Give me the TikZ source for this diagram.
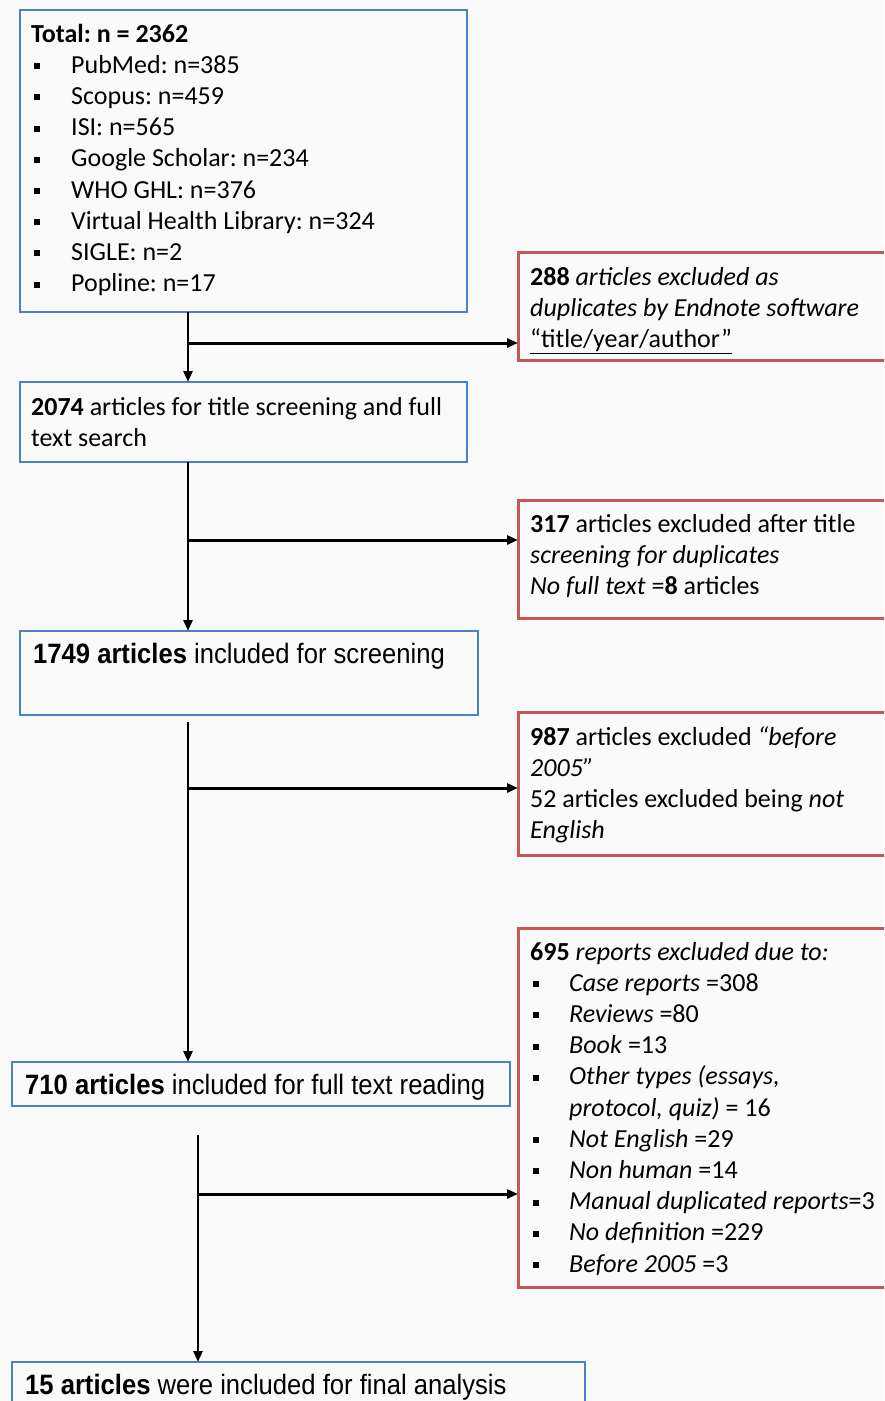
\documentclass[tikz,border=0pt]{standalone}
\usepackage{fontspec}
\setmainfont{Carlito}
\newfontfamily\narrowfont[FakeStretch=0.915]{Liberation Sans}
\usetikzlibrary{arrows.meta}
\frenchspacing
\definecolor{boxblue}{RGB}{72,132,196}
\definecolor{boxred}{RGB}{200,86,86}
\definecolor{pagebg}{RGB}{250,250,251}
\newcommand{\sqb}{\makebox[40pt][l]{\hspace{3pt}\raisebox{4pt}{\rule{6pt}{6pt}}}}
\newcommand{\sqr}{\makebox[39pt][l]{\hspace{3pt}\raisebox{4pt}{\rule{6pt}{6pt}}}}
\tikzset{
  bluebox/.style={draw=boxblue, line width=2.8pt, anchor=north west, inner sep=0pt, outer sep=0pt},
  redbox/.style={draw=boxred, line width=3pt, anchor=north west, inner sep=0pt, outer sep=0pt},
  txt/.style={anchor=base west, inner sep=0pt, align=left, font=\fontsize{26}{31.2}\selectfont},
  ntxt/.style={anchor=base west, inner sep=0pt, align=left, font=\fontsize{28}{33}\narrowfont},
  varr/.style={line width=2.5pt, -{Triangle[length=11pt,width=9pt]}},
  harr/.style={line width=3pt, -{Triangle[length=11pt,width=9pt]}},
}
\begin{document}
\begin{tikzpicture}[x=1pt,y=-1pt]
\useasboundingbox (0,0) rectangle (884,1401);
\clip (0,0) rectangle (884,1401);
\fill[pagebg] (0,0) rectangle (884,1401);

% boxes
\node[bluebox, minimum width=447pt, minimum height=302pt] (b1) at (20,10) {};
\node[bluebox, minimum width=447pt, minimum height=80pt] (b2) at (20,382) {};
\node[bluebox, minimum width=458pt, minimum height=84pt] (b3) at (20,631) {};
\node[bluebox, minimum width=498pt, minimum height=44pt] (b4) at (12,1062) {};
\node[bluebox, minimum width=573pt, minimum height=60pt] (b5) at (12,1362) {};
\node[redbox, minimum width=382pt, minimum height=108pt] (r1) at (518,252) {};
\node[redbox, minimum width=382pt, minimum height=118pt] (r2) at (518,500) {};
\node[redbox, minimum width=382pt, minimum height=143pt] (r3) at (518,712) {};
\node[redbox, minimum width=382pt, minimum height=359pt] (r4) at (518,928) {};

% texts (anchor = baseline of the last line)
\node[txt] (t1) at (31,291.6) {\textbf{Total: n = 2362}\\
\sqb PubMed: n=385\\
\sqb Scopus: n=459\\
\sqb ISI: n=565\\
\sqb Google Scholar: n=234\\
\sqb WHO GHL: n=376\\
\sqb Virtual Health Library: n=324\\
\sqb SIGLE: n=2\\
\sqb Popline: n=17};
\node[txt] (t2) at (31,446.2) {\textbf{2074} articles for title screening and full\\text search};
\node[ntxt] (t3) at (33,663) {\textbf{1749 articles} included for screening};
\node[ntxt] (t4) at (25,1094) {\textbf{710 articles} included for full text reading};
\node[ntxt] (t5) at (25,1394) {\textbf{15 articles} were included for final analysis};
\node[txt] (s1) at (530,347.4) {\textbf{288} \textit{articles excluded as}\\
\textit{duplicates by Endnote software}\\
\underline{“title/year/author”}};
\node[txt] (s2) at (530,594.4) {\textbf{317} articles excluded after title\\
\textit{screening for duplicates}\\
\textit{No full text} =\textbf{8} articles};
\node[txt] (s3) at (530,838.6) {\textbf{987} articles excluded \textit{“before}\\
\textit{2005”}\\
52 articles excluded being \textit{not}\\
\textit{English}};
\node[txt] (s4) at (530,1272) {\textbf{695} \textit{reports excluded due to:}\\
\sqr\textit{Case reports} =308\\
\sqr\textit{Reviews} =80\\
\sqr\textit{Book} =13\\
\sqr\textit{Other types (essays,}\\
\hspace*{39pt}\textit{protocol, quiz)} = 16\\
\sqr\textit{Not English} =29\\
\sqr\textit{Non human} =14\\
\sqr\textit{Manual duplicated reports}=3\\
\sqr\textit{No definition} =229\\
\sqr\textit{Before 2005} =3};

% junction coordinates
\coordinate (j1) at (188,343);
\coordinate (j2) at (188,540);
\coordinate (s3a) at (188,722);
\coordinate (j3) at (188,788);
\coordinate (s4a) at (198,1135);
\coordinate (j4) at (198,1194);

% connectors
\draw[varr] (b1.south -| j1) -- (b2.north -| j1);
\draw[harr] (j1) -- (r1.west |- j1);
\draw[varr] (b2.south -| j2) -- (b3.north -| j2);
\draw[harr] (j2) -- (r2.west |- j2);
\draw[varr] (s3a) -- (b4.north -| s3a);
\draw[harr] (j3) -- (r3.west |- j3);
\draw[varr] (s4a) -- (b5.north -| s4a);
\draw[harr] (j4) -- (r4.west |- j4);
\end{tikzpicture}
\end{document}
